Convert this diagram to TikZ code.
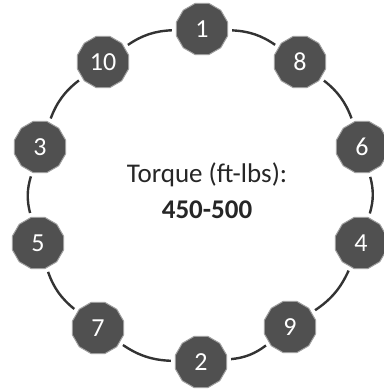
\documentclass[tikz,border=0pt]{standalone}
\usepackage{fontspec}
\setmainfont{Carlito}
\usetikzlibrary{shapes.geometric}
\definecolor{nodegray}{HTML}{505050}
\definecolor{linegray}{HTML}{333333}
\definecolor{textdark}{HTML}{262626}
\begin{document}
\begin{tikzpicture}[x=1pt,y=-1pt,
  bolt/.style={regular polygon, regular polygon sides=12, minimum size=53pt,
    inner sep=0pt, fill=nodegray, draw=nodegray!55, line width=1pt,
    text=white, font=\fontsize{26}{30}\selectfont},
  link/.style={draw=linegray, line width=2.4pt, bend left=16, shorten <=4pt, shorten >=4pt}]
\fill[white] (0,0) rectangle (383,390);
\useasboundingbox (0,0) rectangle (383,390);
\node[bolt] (n1) at (202,29) {1};
\node[bolt] (n8) at (300,62) {8};
\node[bolt] (n6) at (362,147) {6};
\node[bolt] (n4) at (361,243) {4};
\node[bolt] (n9) at (290,327) {9};
\node[bolt] (n2) at (201,362) {2};
\node[bolt] (n7) at (98,328) {7};
\node[bolt] (n5) at (38,243) {5};
\node[bolt] (n3) at (40,147) {3};
\node[bolt] (n10) at (103,62) {10};
\draw[link] (n1) to (n8);
\draw[link] (n8) to (n6);
\draw[link] (n6) to (n4);
\draw[link] (n4) to (n9);
\draw[link] (n9) to (n2);
\draw[link] (n2) to (n7);
\draw[link] (n7) to (n5);
\draw[link] (n5) to (n3);
\draw[link] (n3) to (n10);
\draw[link] (n10) to (n1);
\node[text=textdark, font=\fontsize{27}{30}\selectfont] (t1) at (207,175) {Torque (ft-lbs):};
\node[text=textdark, font=\fontsize{27}{30}\selectfont\bfseries] (t2) at (207,210) {450-500};
\end{tikzpicture}
\end{document}
